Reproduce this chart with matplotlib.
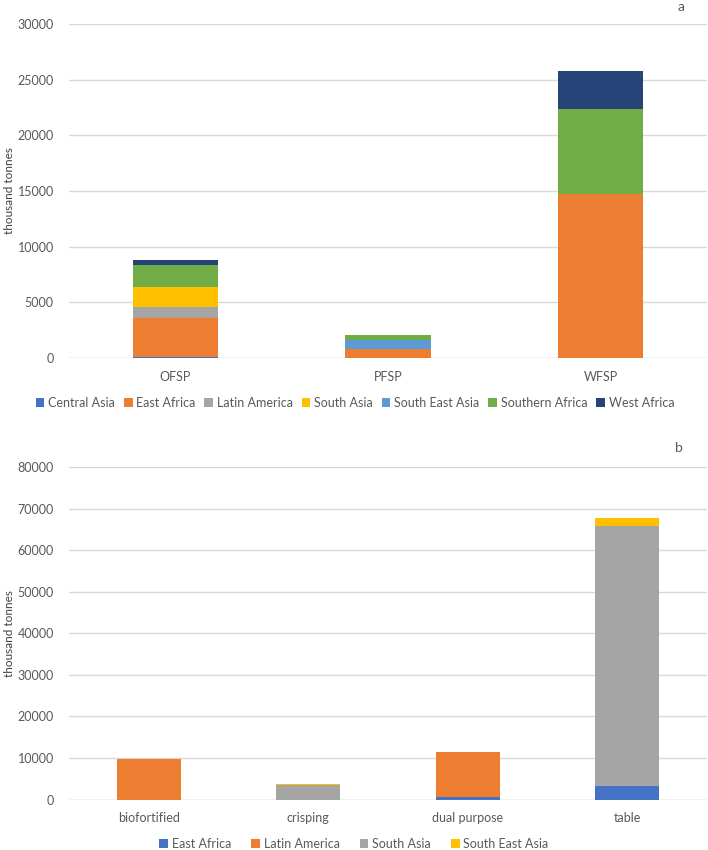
import numpy as np
import matplotlib
matplotlib.use("Agg")
from matplotlib import pyplot as plt

plt.rcParams['font.family'] = ['Lato', 'DejaVu Sans']

# panel a: sweetpotato flesh colour
cats_a = ["OFSP", "PFSP", "WFSP"]
regions_a = ["Central Asia", "East Africa", "Latin America", "South Asia",
             "South East Asia", "Southern Africa", "West Africa"]
central_asia = [100, 0, 0]
east_africa_a = [3530, 780, 14700]
latin_america_a = [960, 0, 0]
south_asia_a = [1830, 0, 0]
south_east_asia_a = [0, 810, 0]
southern_africa = [1955, 455, 7670]
west_africa = [450, 0, 3400]
series_a = [central_asia, east_africa_a, latin_america_a, south_asia_a,
            south_east_asia_a, southern_africa, west_africa]
colors_a = ["#4472C4", "#ED7D31", "#A5A5A5", "#FFC000", "#5B9BD5", "#70AD47", "#264478"]

# panel b: end use
cats_b = ["biofortified", "crisping", "dual purpose", "table"]
regions_b = ["East Africa", "Latin America", "South Asia", "South East Asia"]
east_africa_b = [0, 0, 700, 3320]
latin_america_b = [9660, 0, 10650, 0]
south_asia_b = [0, 3410, 0, 62430]
south_east_asia_b = [0, 310, 0, 2090]
series_b = [east_africa_b, latin_america_b, south_asia_b, south_east_asia_b]
colors_b = ["#4472C4", "#ED7D31", "#A5A5A5", "#FFC000"]

txt = "#595959"
grid = "#D9D9D9"

fig = plt.figure(figsize=(7.08, 8.5), dpi=100)
ax1 = fig.add_axes([0.0975, 0.5788, 0.901, 0.393])
ax2 = fig.add_axes([0.0975, 0.0594, 0.901, 0.3912])


def stacked(ax, cats, names, series, colors, ymax, step):
    x = np.arange(len(cats))
    bottom = np.zeros(len(cats))
    for name, vals, c in zip(names, series, colors):
        ax.bar(x, vals, width=0.4, bottom=bottom, color=c, label=name, zorder=3)
        bottom += np.array(vals, dtype=float)
    ax.set_xlim(-0.5, len(cats) - 0.5)
    ax.set_ylim(0, ymax)
    ax.set_yticks(np.arange(0, ymax + 1, step))
    ax.set_xticks(x)
    ax.set_xticklabels(cats)
    for s in ax.spines.values():
        s.set_visible(False)
    ax.yaxis.grid(True, color=grid, lw=1, zorder=0)
    ax.tick_params(length=0, colors=txt, labelsize=9)
    ax.tick_params(axis='y', pad=11)
    ax.tick_params(axis='x', pad=9)
    ax.axhline(0, color=grid, lw=1, zorder=2)
    ax.set_ylabel("thousand tonnes", color="#404040", fontsize=8.5)


stacked(ax1, cats_a, regions_a, series_a, colors_a, 30000, 5000)
stacked(ax2, cats_b, regions_b, series_b, colors_b, 80000, 10000)
ax1.yaxis.set_label_coords(-0.085, 0.5)
ax2.yaxis.set_label_coords(-0.085, 0.5)

ax1.legend(loc='center', bbox_to_anchor=(355 / 708, 1 - 403 / 850),
           bbox_transform=fig.transFigure, ncol=7, frameon=False,
           handlelength=0.7, handleheight=0.7, handletextpad=0.3,
           columnspacing=0.7, fontsize=9, labelcolor=txt)
ax2.legend(loc='center', bbox_to_anchor=(354 / 708, 1 - 844 / 850),
           bbox_transform=fig.transFigure, ncol=4, frameon=False,
           handlelength=0.7, handleheight=0.7, handletextpad=0.3,
           columnspacing=1.6, fontsize=9, labelcolor=txt)

fig.text(681 / 708, 1 - 7 / 850, "a", color=txt, fontsize=10, ha='center', va='center')
fig.text(679 / 708, 1 - 448 / 850, "b", color=txt, fontsize=10, ha='center', va='center')

fig.savefig("out.png", dpi=100)
